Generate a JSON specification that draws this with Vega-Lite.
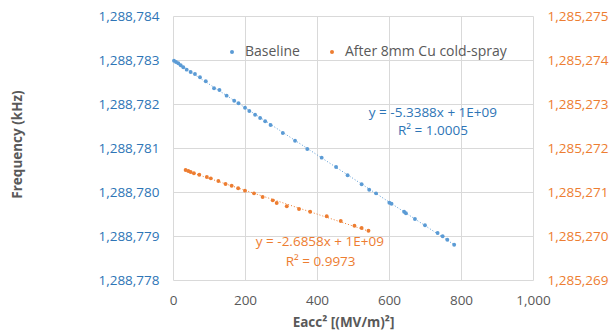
{
  "$schema": "https://vega.github.io/schema/vega-lite/v6.json",
  "width": 360,
  "height": 264,
  "autosize": "none",
  "padding": {"left": 173, "top": 16, "right": 81, "bottom": 53},
  "background": "white",
  "config": {
    "view": {"stroke": null},
    "font": "Open Sans",
    "axis": {"labelFont": "Open Sans", "labelFontSize": 13.5, "titleFont": "Open Sans", "titleFontSize": 13.5, "titleColor": "#595959", "titleFontWeight": "bold", "ticks": false, "domain": false, "gridColor": "#D9D9D9", "gridWidth": 1},
    "legend": {"labelFont": "Open Sans", "labelFontSize": 14, "labelColor": "#595959", "labelLimit": 400}
  },
  "datasets": {
    "baseline": [
      {"x": 2.8, "freq": 1288782.984, "series": "Baseline"},
      {"x": 8.3, "freq": 1288782.955, "series": "Baseline"},
      {"x": 14.7, "freq": 1288782.925, "series": "Baseline"},
      {"x": 21.4, "freq": 1288782.880, "series": "Baseline"},
      {"x": 28.6, "freq": 1288782.834, "series": "Baseline"},
      {"x": 38, "freq": 1288782.780, "series": "Baseline"},
      {"x": 49, "freq": 1288782.727, "series": "Baseline"},
      {"x": 61, "freq": 1288782.682, "series": "Baseline"},
      {"x": 75, "freq": 1288782.607, "series": "Baseline"},
      {"x": 91, "freq": 1288782.516, "series": "Baseline"},
      {"x": 114, "freq": 1288782.357, "series": "Baseline"},
      {"x": 129, "freq": 1288782.318, "series": "Baseline"},
      {"x": 149, "freq": 1288782.189, "series": "Baseline"},
      {"x": 170, "freq": 1288782.075, "series": "Baseline"},
      {"x": 182, "freq": 1288782.016, "series": "Baseline"},
      {"x": 200, "freq": 1288781.916, "series": "Baseline"},
      {"x": 212, "freq": 1288781.841, "series": "Baseline"},
      {"x": 228, "freq": 1288781.757, "series": "Baseline"},
      {"x": 242, "freq": 1288781.682, "series": "Baseline"},
      {"x": 256, "freq": 1288781.607, "series": "Baseline"},
      {"x": 271, "freq": 1288781.523, "series": "Baseline"},
      {"x": 305, "freq": 1288781.341, "series": "Baseline"},
      {"x": 339, "freq": 1288781.166, "series": "Baseline"},
      {"x": 373, "freq": 1288780.977, "series": "Baseline"},
      {"x": 413, "freq": 1288780.780, "series": "Baseline"},
      {"x": 453, "freq": 1288780.568, "series": "Baseline"},
      {"x": 485, "freq": 1288780.380, "series": "Baseline"},
      {"x": 524, "freq": 1288780.175, "series": "Baseline"},
      {"x": 545, "freq": 1288780.052, "series": "Baseline"},
      {"x": 564, "freq": 1288779.970, "series": "Baseline"},
      {"x": 601, "freq": 1288779.757, "series": "Baseline"},
      {"x": 607, "freq": 1288779.734, "series": "Baseline"},
      {"x": 642, "freq": 1288779.552, "series": "Baseline"},
      {"x": 647, "freq": 1288779.516, "series": "Baseline"},
      {"x": 672, "freq": 1288779.386, "series": "Baseline"},
      {"x": 700, "freq": 1288779.243, "series": "Baseline"},
      {"x": 735, "freq": 1288779.068, "series": "Baseline"},
      {"x": 749, "freq": 1288778.993, "series": "Baseline"},
      {"x": 762, "freq": 1288778.916, "series": "Baseline"},
      {"x": 781, "freq": 1288778.802, "series": "Baseline"}
    ],
    "after": [
      {"x": 35, "freq": 1285271.500, "series": "After 8mm Cu cold-spray"},
      {"x": 42.5, "freq": 1285271.477, "series": "After 8mm Cu cold-spray"},
      {"x": 49, "freq": 1285271.455, "series": "After 8mm Cu cold-spray"},
      {"x": 58, "freq": 1285271.425, "series": "After 8mm Cu cold-spray"},
      {"x": 73, "freq": 1285271.393, "series": "After 8mm Cu cold-spray"},
      {"x": 94, "freq": 1285271.341, "series": "After 8mm Cu cold-spray"},
      {"x": 105, "freq": 1285271.311, "series": "After 8mm Cu cold-spray"},
      {"x": 126, "freq": 1285271.250, "series": "After 8mm Cu cold-spray"},
      {"x": 146, "freq": 1285271.182, "series": "After 8mm Cu cold-spray"},
      {"x": 163, "freq": 1285271.143, "series": "After 8mm Cu cold-spray"},
      {"x": 181, "freq": 1285271.084, "series": "After 8mm Cu cold-spray"},
      {"x": 200, "freq": 1285271.030, "series": "After 8mm Cu cold-spray"},
      {"x": 225, "freq": 1285270.970, "series": "After 8mm Cu cold-spray"},
      {"x": 249, "freq": 1285270.886, "series": "After 8mm Cu cold-spray"},
      {"x": 277, "freq": 1285270.811, "series": "After 8mm Cu cold-spray"},
      {"x": 288, "freq": 1285270.750, "series": "After 8mm Cu cold-spray"},
      {"x": 316, "freq": 1285270.675, "series": "After 8mm Cu cold-spray"},
      {"x": 350, "freq": 1285270.614, "series": "After 8mm Cu cold-spray"},
      {"x": 381, "freq": 1285270.552, "series": "After 8mm Cu cold-spray"},
      {"x": 427, "freq": 1285270.448, "series": "After 8mm Cu cold-spray"},
      {"x": 466, "freq": 1285270.341, "series": "After 8mm Cu cold-spray"},
      {"x": 504, "freq": 1285270.234, "series": "After 8mm Cu cold-spray"},
      {"x": 524, "freq": 1285270.182, "series": "After 8mm Cu cold-spray"},
      {"x": 543, "freq": 1285270.120, "series": "After 8mm Cu cold-spray"}
    ],
    "labelsBlue": [
      {"x": 722, "freq": 1288781.80, "text": "y = -5.3388x + 1E+09"},
      {"x": 722, "freq": 1288781.39, "text": "R² = 1.0005"}
    ],
    "labelsOrange": [
      {"x": 408, "freq": 1288778.86, "text": "y = -2.6858x + 1E+09"},
      {"x": 410, "freq": 1288778.41, "text": "R² = 0.9973"}
    ]
  },
  "layer": [
    {
      "layer": [
        {
          "data": {"name": "baseline"},
          "transform": [{"regression": "freq", "on": "x"}],
          "mark": {"type": "line", "color": "#5B9BD5", "strokeWidth": 1, "strokeDash": [1, 2]},
          "encoding": {
            "x": {"field": "x", "type": "quantitative"},
            "y": {"field": "freq", "type": "quantitative"}
          }
        },
        {
          "data": {"name": "baseline"},
          "mark": {"type": "point", "filled": true, "shape": "circle", "size": 15, "opacity": 1},
          "encoding": {
            "x": {"field": "x", "type": "quantitative", "scale": {"domain": [0, 1000], "nice": false},
              "axis": {"title": "Eacc² [(MV/m)²]", "format": ",d", "values": [0, 200, 400, 600, 800, 1000], "labelColor": "#595959", "labelPadding": 13, "labelFlush": false, "titleX": 170, "titleY": 42, "titleBaseline": "middle", "grid": true}},
            "y": {"field": "freq", "type": "quantitative", "scale": {"domain": [1288778, 1288784], "nice": false, "zero": false},
              "axis": {"title": "Frequency (kHz)", "format": ",d", "values": [1288778, 1288779, 1288780, 1288781, 1288782, 1288783, 1288784], "labelColor": "#2E75B6", "labelPadding": 14, "grid": true, "titleX": -156, "titleY": 128, "titleAlign": "center", "titleBaseline": "middle", "titleAngle": -90}},
            "color": {"field": "series", "type": "nominal",
              "scale": {"domain": ["Baseline", "After 8mm Cu cold-spray"], "range": ["#5B9BD5", "#ED7D31"]},
              "legend": {"title": null, "orient": "none", "legendX": 52, "legendY": 29, "direction": "horizontal", "symbolType": "circle", "symbolSize": 16, "columnPadding": 25, "labelOffset": 6}}
          }
        },
        {
          "data": {"name": "labelsBlue"},
          "mark": {"type": "text", "color": "#2E75B6", "fontSize": 13.5, "font": "Open Sans", "align": "center", "baseline": "middle"},
          "encoding": {
            "x": {"field": "x", "type": "quantitative"},
            "y": {"field": "freq", "type": "quantitative"},
            "text": {"field": "text"}
          }
        },
        {
          "data": {"name": "labelsOrange"},
          "mark": {"type": "text", "color": "#ED7D31", "fontSize": 13.5, "font": "Open Sans", "align": "center", "baseline": "middle"},
          "encoding": {
            "x": {"field": "x", "type": "quantitative"},
            "y": {"field": "freq", "type": "quantitative"},
            "text": {"field": "text"}
          }
        }
      ]
    },
    {
      "layer": [
        {
          "data": {"name": "after"},
          "transform": [{"regression": "freq", "on": "x"}],
          "mark": {"type": "line", "color": "#ED7D31", "strokeWidth": 1, "strokeDash": [1, 2]},
          "encoding": {
            "x": {"field": "x", "type": "quantitative"},
            "y": {"field": "freq", "type": "quantitative"}
          }
        },
        {
          "data": {"name": "after"},
          "mark": {"type": "point", "filled": true, "shape": "circle", "size": 15, "opacity": 1},
          "encoding": {
            "x": {"field": "x", "type": "quantitative"},
            "y": {"field": "freq", "type": "quantitative", "scale": {"domain": [1285269, 1285275], "nice": false, "zero": false},
              "axis": {"orient": "right", "title": null, "format": ",d", "values": [1285269, 1285270, 1285271, 1285272, 1285273, 1285274, 1285275], "labelColor": "#ED7D31", "labelPadding": 14, "grid": false}},
            "color": {"field": "series", "type": "nominal"}
          }
        }
      ]
    }
  ],
  "resolve": {"scale": {"y": "independent"}}
}
